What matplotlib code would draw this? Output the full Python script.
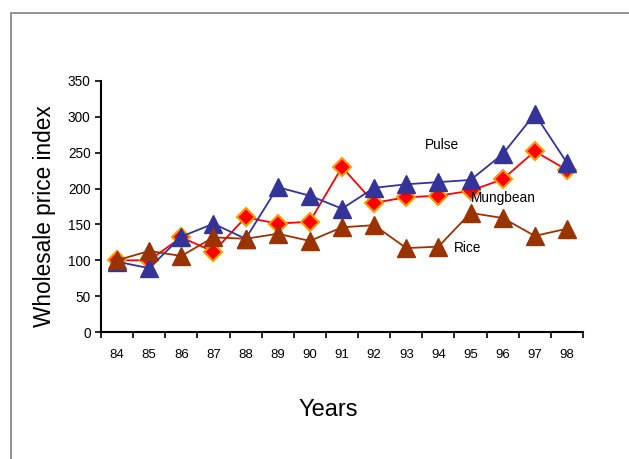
import matplotlib.pyplot as plt
from matplotlib.patches import Rectangle

plt.rcParams['font.family'] = ['Liberation Sans', 'DejaVu Sans']

years = ['84', '85', '86', '87', '88', '89', '90', '91', '92', '93', '94', '95', '96', '97', '98']
pulse = [98, 89, 133, 151, 130, 202, 190, 172, 201, 206, 209, 212, 248, 304, 236]
mungbean = [100, 100, 132, 112, 160, 151, 154, 230, 180, 188, 190, 197, 213, 252, 226]
rice = [100, 113, 106, 132, 130, 137, 127, 146, 149, 117, 119, 166, 159, 134, 144]

fig = plt.figure(figsize=(6.29, 4.59), dpi=100)
# grey frame of the original slide, running off the right and bottom
fig.patches.append(Rectangle((11 / 629, -0.1), 1.0, (459 - 13) / 459 + 0.1,
                             transform=fig.transFigure, fill=False,
                             edgecolor='#808080', linewidth=1.2, clip_on=False))

ax = fig.add_axes([101 / 629, (459 - 332) / 459, (583 - 101) / 629, (332 - 81) / 459])
x = list(range(len(years)))

ax.plot(x, mungbean, color='#FF0000', lw=1.3, marker='D', ms=9,
        mfc='#FF0000', mec='#FF9900', mew=1.5, zorder=3)
ax.plot(x, pulse, color='#333399', lw=1.3, marker='^', ms=13,
        mfc='#333399', mec='#333399', zorder=4)
ax.plot(x, rice, color='#993300', lw=1.3, marker='^', ms=13,
        mfc='#993300', mec='#993300', zorder=5)

ax.text(10.1, 261, 'Pulse', fontsize=9.8, ha='center', va='center')
ax.text(11.0, 187, 'Mungbean', fontsize=9.8, ha='left', va='center', zorder=6)
ax.text(10.9, 117, 'Rice', fontsize=9.8, ha='center', va='center')

ax.set_xlim(-0.5, len(years) - 0.5)
ax.set_ylim(0, 350)
ax.set_yticks(range(0, 351, 50))
ax.set_xticks([i - 0.5 for i in range(len(years) + 1)], minor=False)
ax.set_xticklabels([])
ax.set_xticks(x, minor=True)
ax.set_xticklabels(years, minor=True)
ax.tick_params(axis='x', which='major', direction='out', length=4, width=1.2)
ax.tick_params(axis='x', which='minor', length=0, pad=12, labelsize=9.5)
ax.tick_params(axis='y', direction='out', length=4, width=1.2, labelsize=9.8)

for s in ['top', 'right']:
    ax.spines[s].set_visible(False)
for s in ['left', 'bottom']:
    ax.spines[s].set_linewidth(1.5)

ax.text(-0.118, 0.462, 'Wholesale price index', fontsize=16.3, rotation=90,
        ha='center', va='center', transform=ax.transAxes)
ax.text(0.471, -0.31, 'Years', fontsize=17, ha='center', va='center',
        transform=ax.transAxes)

fig.savefig('out.png', dpi=100)
